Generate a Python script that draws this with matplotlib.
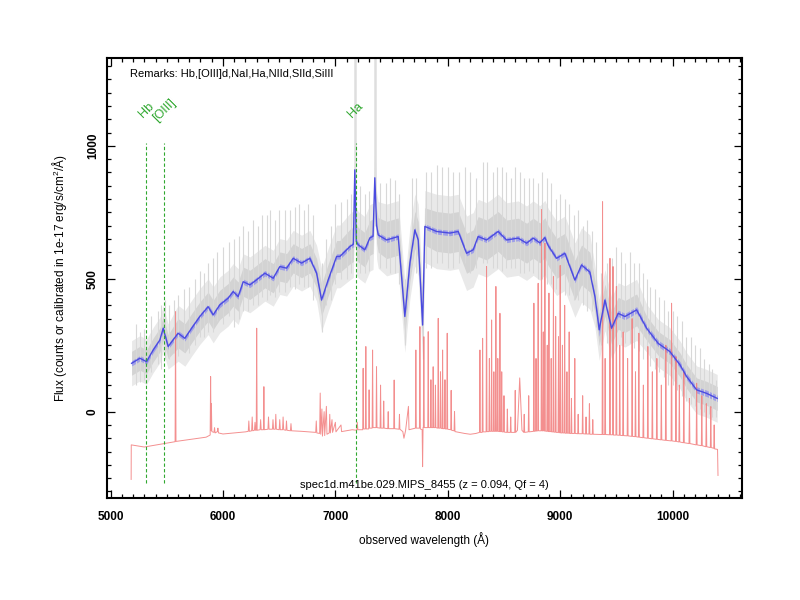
import numpy as np
import matplotlib
matplotlib.use("Agg")
import matplotlib.pyplot as plt

plt.rcParams['font.family'] = ['Liberation Sans', 'DejaVu Sans']
plt.rcParams['mathtext.fontset'] = 'custom'
plt.rcParams['mathtext.rm'] = 'Liberation Sans'
plt.rcParams['mathtext.it'] = 'Liberation Sans:italic'

# smoothed spectrum (blue)
blue_wave = [5187, 5261, 5320, 5379, 5439, 5468, 5512, 5601, 5661, 5721,
             5794, 5868, 5913, 5972, 6046, 6091, 6135, 6180, 6239, 6299,
             6373, 6447, 6506, 6566, 6625, 6699, 6773, 6833, 6877, 6936,
             7011, 7040, 7129, 7160, 7173, 7186, 7203, 7262, 7307, 7335,
             7351, 7367, 7381, 7456, 7559, 7589, 7618, 7663, 7707, 7737,
             7776, 7796, 7900, 8019, 8093, 8167, 8226, 8270, 8345, 8448,
             8523, 8626, 8701, 8760, 8819, 8864, 8893, 8968, 9042, 9131,
             9190, 9264, 9309, 9347, 9398, 9457, 9516, 9576, 9680, 9769,
             9872, 9976, 10066, 10125, 10214, 10302, 10397]
blue_flux = [182, 201, 188, 232, 270, 314, 245, 295, 276, 314,
             358, 395, 364, 402, 427, 452, 433, 489, 477, 496,
             521, 502, 546, 540, 577, 559, 577, 521, 420, 496,
             584, 584, 621, 630, 910, 640, 628, 609, 654, 660,
             880, 700, 665, 646, 659, 508, 358, 560, 684, 646,
             326, 697, 678, 672, 678, 596, 609, 659, 646, 678,
             646, 653, 634, 653, 635, 655, 625, 577, 596, 495,
             552, 525, 433, 308, 420, 314, 370, 358, 383, 314,
             257, 226, 176, 132, 82, 69, 50]
blue_err = ([10] * 46 + [15] + [10] * 3 + [20] + [10] * 22 + [25] + [12] * 13)

# spread of the raw (gray) spectrum around the smoothed one
gray_inner = [45] * 7 + [55] * 21 + [60] * 4 + [65] * 11 + [70] * 9 + [75] * 20 + [60] * 7 + [45] * 8
gray_outer = [85] * 7 + [105] * 21 + [118] * 4 + [125] * 11 + [135] * 9 + [140] * 20 + [115] * 7 + [90] * 8

gray_spike_wave = [5230, 5300, 5420, 5480, 5560, 5650, 5700, 5800, 5870, 5950,
                   6050, 6100, 6180, 6270, 6350, 6420, 6500, 6600, 6680, 6760,
                   6877, 6920, 7000, 7100, 7260, 7450, 7530, 7620, 7680, 7776,
                   7850, 7950, 8050, 8150, 8250, 8310, 8400, 8480, 8560, 8640,
                   8720, 8800, 8880, 8960, 9040, 9120, 9200, 9280, 9360, 9420,
                   9500, 9580, 9660, 9740, 9800, 9880, 9960, 10040, 10120, 10200,
                   10280, 10350,
                   5260, 5360, 5450, 5520, 5600, 5750, 5830, 5910, 6000, 6140,
                   6220, 6310, 6390, 6460, 6550, 6640, 6720, 6800, 6960, 7050,
                   7140, 7220, 7300, 7400, 7490, 7570, 7720, 7810, 7900, 8000,
                   8100, 8200, 8350, 8440, 8520, 8600, 8680, 8760, 8840, 8920,
                   9000, 9080, 9160, 9240, 9320, 9460, 9540, 9620, 9700, 9770,
                   9840, 9920, 10000, 10080, 10160, 10240, 10320, 10390]
gray_spike_lo = [100, 120, 180, 200, 220, 230, 220, 280, 300, 340,
                 360, 320, 380, 400, 430, 440, 450, 470, 480, 470,
                 300, 400, 480, 500, 520, 540, 520, 250, 560, 200,
                 540, 560, 540, 560, 540, 560, 540, 530, 540, 520,
                 530, 500, 480, 460, 440, 420, 400, 380, 250, 260,
                 270, 260, 240, 200, 170, 150, 100, 80, 40, 20,
                 0, -20,
                 110, 150, 160, 200, 210, 250, 280, 300, 330, 350,
                 380, 400, 420, 430, 450, 460, 470, 420, 420, 500,
                 520, 520, 530, 540, 520, 480, 520, 540, 560, 540,
                 560, 520, 560, 540, 540, 540, 520, 520, 500, 480,
                 460, 440, 420, 380, 320, 260, 280, 260, 230, 200,
                 160, 130, 100, 60, 30, 10, -10, -20]
gray_spike_hi = [330, 310, 380, 420, 420, 460, 470, 530, 560, 600,
                 640, 650, 700, 720, 740, 760, 760, 760, 780, 780,
                 560, 650, 780, 800, 820, 860, 870, 500, 880, 520,
                 900, 920, 900, 920, 880, 940, 900, 920, 880, 900,
                 880, 860, 880, 800, 800, 740, 700, 680, 520, 560,
                 620, 560, 560, 520, 470, 430, 380, 360, 280, 250,
                 200, 160,
                 300, 360, 400, 400, 440, 500, 520, 580, 620, 660,
                 680, 700, 740, 720, 760, 770, 760, 740, 700, 790,
                 820, 850, 830, 860, 880, 820, 880, 900, 930, 920,
                 900, 900, 940, 920, 900, 920, 880, 880, 900, 860,
                 820, 780, 760, 720, 640, 580, 600, 600, 560, 500,
                 460, 420, 380, 340, 280, 240, 180, 120]
gray_peak_wave = [7173, 7351]
gray_peak_lo = [620, 700]
gray_peak_hi = [1340, 1340]

# sky / error spectrum (red), (wavelength, flux) pairs
sky_points = [
    (5183, -255), (5184, -125), (5300, -133), (5450, -122), (5574, -113), (5578, 376), (5582, -112),
    (5700, -105), (5850, -96), (5886, -88), (5890, 132), (5894, -70), (5897, 30), (5901, -75),
    (5920, -78), (5925, -60), (5930, -80), (5950, -75), (5955, -62), (5960, -80), (6000, -84),
    (6100, -80), (6200, -76), (6225, -74), (6230, -35), (6235, -74), (6255, -72), (6260, -20),
    (6265, -72), (6280, -70), (6285, -40), (6290, -70), (6296, -70), (6300, 314), (6304, -70),
    (6330, -68), (6335, -30), (6340, -68), (6360, -68), (6364, 94), (6368, -68), (6400, -66),
    (6405, -20), (6410, -66), (6440, -66), (6445, -30), (6450, -66), (6465, -66), (6470, -10),
    (6475, -66), (6500, -68), (6505, -30), (6510, -68), (6530, -68), (6535, -20), (6540, -68),
    (6560, -70), (6565, -35), (6570, -70), (6600, -72), (6605, -45), (6610, -72), (6700, -74),
    (6800, -77), (6825, -78), (6830, -35), (6835, -80), (6860, -82), (6865, 70), (6870, -85),
    (6880, 10), (6885, -92), (6900, 0), (6905, -90), (6920, 20), (6925, -85), (6945, -80),
    (6950, -10), (6955, -80), (6970, -30), (6975, -78), (7000, -40), (7005, -76), (7050, -50),
    (7055, -75), (7150, -68), (7190, -70), (7195, -40), (7200, -68), (7243, -68), (7247, 163),
    (7251, -65), (7267, -65), (7271, 245), (7275, -65), (7296, -65), (7300, 82), (7304, -62),
    (7327, -62), (7331, 232), (7335, -60), (7362, -60), (7366, 169), (7370, -60), (7398, -62),
    (7402, 100), (7406, -62), (7426, -62), (7430, 40), (7434, -62), (7466, -64), (7470, 0),
    (7474, -64), (7519, -64), (7523, 119), (7527, -64), (7566, -66), (7570, -10), (7574, -66),
    (7600, -75), (7610, -100), (7625, -70), (7650, 20), (7655, -68), (7712, -62), (7716, 232),
    (7720, -62), (7748, -62), (7752, 320), (7756, -65), (7772, -68), (7776, -207), (7780, -60),
    (7783, -60), (7787, 282), (7791, -60), (7822, -60), (7826, 301), (7830, -60), (7846, -60),
    (7850, 120), (7854, -60), (7866, -60), (7870, 169), (7874, -60), (7886, -60), (7890, 100),
    (7894, -60), (7911, -62), (7915, 351), (7919, -62), (7931, -62), (7935, 150), (7939, -62),
    (7950, -64), (7954, 232), (7958, -64), (7971, -64), (7975, 120), (7979, -65), (7991, -65),
    (7995, 295), (7999, -66), (8026, -68), (8030, 80), (8034, -70), (8056, -72), (8060, 0),
    (8064, -75), (8100, -78), (8150, -82), (8200, -85), (8250, -82), (8282, -78), (8286, 232),
    (8290, -78), (8306, -78), (8310, 276), (8314, -76), (8341, -76), (8345, 546), (8349, -75),
    (8366, -75), (8370, 200), (8374, -74), (8386, -74), (8390, 345), (8394, -74), (8406, -74),
    (8410, 150), (8414, -74), (8424, -74), (8428, 471), (8432, -74), (8441, -74), (8445, 200),
    (8449, -74), (8460, -75), (8464, 370), (8468, -75), (8476, -75), (8480, 150), (8484, -76),
    (8496, -76), (8500, 60), (8504, -77), (8526, -78), (8530, 10), (8534, -78), (8556, -78),
    (8560, -20), (8564, -78), (8596, -78), (8600, 80), (8604, -78), (8620, -70), (8640, 127),
    (8660, -70), (8676, -78), (8680, -10), (8684, -78), (8716, -76), (8720, 60), (8724, -76),
    (8762, -74), (8766, 408), (8770, -74), (8781, -73), (8785, 200), (8789, -73), (8800, -72),
    (8804, 483), (8808, -72), (8830, -72), (8834, 760), (8838, -72), (8846, -72), (8850, 300),
    (8854, -72), (8860, -73), (8864, 634), (8868, -73), (8881, -74), (8885, 250), (8889, -74),
    (8896, -75), (8900, 446), (8904, -75), (8916, -75), (8920, 200), (8924, -76), (8936, -76),
    (8940, 508), (8944, -77), (8956, -77), (8960, 358), (8964, -78), (8981, -78), (8985, 282),
    (8989, -79), (8996, -79), (9000, 550), (9004, -80), (9016, -80), (9020, 250), (9024, -80),
    (9036, -80), (9040, 400), (9044, -81), (9056, -81), (9060, 150), (9064, -81), (9076, -81),
    (9080, 300), (9084, -82), (9096, -82), (9100, 50), (9104, -82), (9126, -82), (9130, 200),
    (9134, -82), (9156, -83), (9160, -10), (9164, -83), (9196, -83), (9200, 60), (9204, -83),
    (9226, -84), (9230, -20), (9234, -84), (9256, -84), (9260, 30), (9264, -85), (9286, -85),
    (9290, -30), (9294, -85), (9373, -86), (9377, 790), (9381, -86), (9396, -86), (9400, 200),
    (9404, -86), (9439, -87), (9443, 577), (9447, -87), (9466, -87), (9470, 546), (9474, -88),
    (9496, -88), (9500, 471), (9504, -88), (9526, -89), (9530, 250), (9534, -89), (9556, -90),
    (9560, 300), (9564, -90), (9596, -91), (9600, 200), (9604, -91), (9636, -93), (9640, 350),
    (9644, -93), (9666, -94), (9670, 150), (9674, -94), (9696, -96), (9700, 295), (9704, -96),
    (9736, -98), (9740, 100), (9744, -98), (9776, -100), (9780, 245), (9784, -100), (9816, -102),
    (9820, 150), (9824, -102), (9856, -104), (9860, 200), (9864, -104), (9896, -106), (9900, 100),
    (9904, -106), (9936, -108), (9940, 250), (9944, -108), (9987, -110), (9991, 408), (9995, -110),
    (10026, -112), (10030, 207), (10034, -112), (10056, -114), (10060, 100), (10064, -114),
    (10096, -117), (10100, 150), (10104, -117), (10146, -120), (10150, 50), (10154, -120),
    (10210, -125), (10214, 107), (10218, -125), (10256, -128), (10260, 60), (10264, -128),
    (10296, -132), (10300, 30), (10304, -132), (10336, -135), (10340, 19), (10344, -135),
    (10366, -138), (10370, -50), (10374, -140), (10400, -142), (10404, -240),
]

# emission lines marked at z = 0.094
line_names = ['Hb', '[OIII]', 'Ha']
line_wave = [5318, 5478, 7180]
line_bottom = -268
line_top = 1011
label_y = 1136

remarks = 'Remarks: Hb,[OIII]d,NaI,Ha,NIId,SIId,SiIII'
title_txt = 'spec1d.m41be.029.MIPS_8455 (z = 0.094, Qf = 4)'

bw = np.array(blue_wave, float)
bf = np.array(blue_flux, float)
be = np.array(blue_err, float)
gi = np.array(gray_inner, float)
go = np.array(gray_outer, float)
sky_wave, sky_flux = np.array(sky_points, float).T

fig = plt.figure(figsize=(8, 6), dpi=100)
ax = fig.add_axes([0.134, 0.1695, 0.793, 0.7335])

ax.fill_between(bw, bf - go, bf + go, color='#e9e9e9', lw=0)
ax.fill_between(bw, bf - gi, bf + gi, color='#d3d3d3', lw=0)
ax.vlines(gray_spike_wave, gray_spike_lo, gray_spike_hi, color='#d8d8d8', lw=0.8)
ax.vlines(gray_peak_wave, gray_peak_lo, gray_peak_hi, color='#dedede', lw=1.8)

ax.plot(sky_wave, sky_flux, color='#f27c7c', lw=0.7, alpha=0.85)

ax.fill_between(bw, bf - be, bf + be, color='#8a8af0', alpha=0.7, lw=0)
ax.plot(bw, bf, color='#4b4be0', lw=1.0)

ax.vlines(line_wave, line_bottom, line_top, color='#30a830', lw=0.8,
          linestyles=(0, (3, 2)))
for name, w in zip(line_names, line_wave):
    ax.text(w, label_y, name, rotation=45, ha='center', va='center',
            color='#30a830', fontsize=9)

ax.text(0.036, 0.9636, remarks, transform=ax.transAxes, fontsize=8,
        va='center', ha='left')
ax.text(0.5, 0.03, title_txt, transform=ax.transAxes, fontsize=8,
        va='center', ha='center')

ax.set_xlim(4970, 10614)
ax.set_ylim(-326, 1330)
ax.set_xticks([5000, 6000, 7000, 8000, 9000, 10000])
ax.set_xticks(np.arange(5000, 10601, 100), minor=True)
ax.set_yticks([0, 500, 1000])
ax.set_yticks(np.arange(-300, 1331, 50), minor=True)
ax.tick_params(which='both', direction='in', top=True, right=True, width=0.9)
ax.tick_params(which='major', length=6)
ax.tick_params(which='minor', length=3)
ax.tick_params(axis='x', which='major', pad=9)
ax.tick_params(axis='y', which='major', pad=6)
for lab in ax.get_xticklabels() + ax.get_yticklabels():
    lab.set_fontweight('bold')
    lab.set_fontsize(8.5)
for lab in ax.get_yticklabels():
    lab.set_rotation(90)
    lab.set_va('center')
for sp in ax.spines.values():
    sp.set_linewidth(1.5)

ax.set_xlabel('observed wavelength (Å)', fontsize=8.5)
ax.set_ylabel('Flux (counts or calibrated in 1e-17 erg/s/cm$^2$/Å)', fontsize=8.5)
ax.xaxis.set_label_coords(0.5, -0.077)
ax.yaxis.set_label_coords(-0.061, 0.5)

fig.savefig('out.png', dpi=100)
